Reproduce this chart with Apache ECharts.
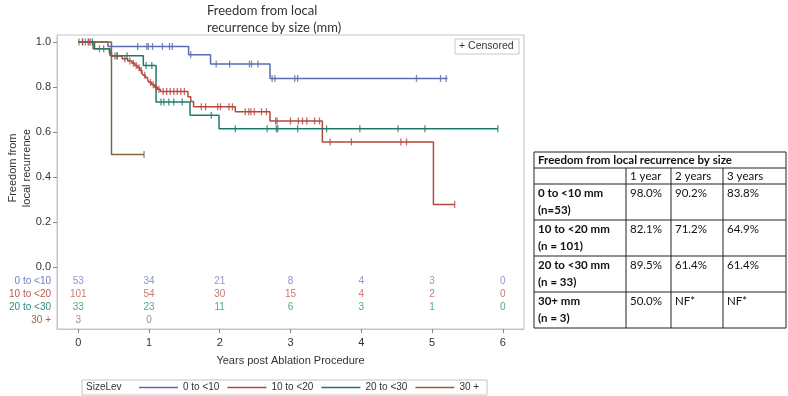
<!DOCTYPE html>
<html><head><meta charset="utf-8">
<script src="https://cdn.jsdelivr.net/npm/echarts@6/dist/echarts.min.js"></script>
<style>html,body{margin:0;padding:0;background:#fff}#c{width:788px;height:396px}</style>
</head><body><div id="c"></div>
<script>
// ---------------- data ----------------
const groups = ['0 to <10', '10 to <20', '20 to <30', '30 +'];
// Kaplan-Meier step points [years, freedom from recurrence]
const km0 = [[0,1],[0.42,0.98],[1.56,0.943],[1.87,0.902],[2.71,0.838],[5.22,0.838]];
const km1 = [[0,1],[0.21,0.970],[0.44,0.950],[0.47,0.938],[0.62,0.926],[0.70,0.915],[0.76,0.905],[0.80,0.895],
  [0.84,0.885],[0.87,0.874],[0.90,0.863],[0.92,0.852],[0.95,0.842],[0.98,0.831],[1.00,0.821],[1.04,0.810],
  [1.08,0.799],[1.12,0.790],[1.16,0.780],[1.55,0.757],[1.59,0.735],[1.63,0.712],[2.22,0.690],[2.71,0.649],
  [3.45,0.556],[5.02,0.278],[5.32,0.278]];
const km2 = [[0,1],[0.23,0.970],[0.45,0.939],[0.92,0.895],[1.10,0.733],[1.58,0.674],[1.99,0.614],[5.93,0.614]];
const km3 = [[0,1],[0.47,0.5],[0.93,0.5]];
// censoring times (years)
const cens0 = [0.06,0.15,0.84,0.97,0.99,1.05,1.19,1.29,1.33,1.59,1.95,2.14,2.42,2.45,2.54,2.74,2.78,3.06,3.10,4.78,5.12,5.20];
const cens1 = [0.06,0.10,0.14,0.17,0.30,0.36,0.52,0.55,0.66,0.73,0.78,0.82,0.86,0.89,0.94,1.02,1.06,1.10,1.14,
  1.20,1.25,1.30,1.35,1.40,1.45,1.50,1.74,1.80,1.97,2.01,2.13,2.18,2.36,2.41,2.44,2.49,2.59,2.66,
  2.79,2.81,3.00,3.11,3.17,3.23,3.34,3.41,3.56,3.86,4.56,4.64,5.32];
const cens2 = [0.20,0.55,0.69,0.96,1.04,1.17,1.21,1.28,1.35,1.47,1.88,2.22,2.67,2.80,2.82,3.10,3.51,3.98,4.52,4.90,5.93];
const cens3 = [0.01,0.93];
// numbers at risk
const riskTimes = [0,1,2,3,4,5,6];
const risk0 = [53,34,21,8,4,3,0];
const risk1 = [101,54,30,15,4,2,0];
const risk2 = [33,23,11,6,3,1,0];
const risk3 = [3,0];
// axes
const xTicks = [0,1,2,3,4,5,6];
const yTicks = [0,0.2,0.4,0.6,0.8,1.0];
// table
const tableTitle = 'Freedom from local recurrence by size';
const tableCols = ['1 year','2 years','3 years'];
const tableRowLabels = [['0 to <10 mm','(n=53)'],['10 to <20 mm','(n = 101)'],['20 to <30 mm','(n = 33)'],['30+ mm','(n = 3)']];
const table1y = ['98.0%','82.1%','89.5%','50.0%'];
const table2y = ['90.2%','71.2%','61.4%','NF*'];
const table3y = ['83.8%','64.9%','61.4%','NF*'];

// ---------------- layout / style ----------------
const FONT = '"Liberation Sans", Arial, sans-serif';
const TFONT = 'Lato, "Liberation Sans", sans-serif';
const colors = ['#5b6bb0','#b5473f','#1f7a6c','#86663f'];
const riskColors = ['#6f7ec0','#c0574f','#2f8a7c','#8e6f4c'];
const rowY = [-0.062,-0.12,-0.178,-0.236];
const yMin = -0.2756, yMax = 1.0311;

const kms = [km0,km1,km2,km3];
const cens = [cens0,cens1,cens2,cens3];
const risks = [risk0,risk1,risk2,risk3];

function survAt(km,t){ let s = km[0][1]; for (const p of km){ if (p[0] <= t + 1e-9) s = p[1]; else break; } return s; }

const series = [];
kms.forEach((km,i)=>{
  series.push({name:groups[i], type:'line', step:'end', data:km, symbol:'none', z:2+i,
    lineStyle:{color:colors[i], width:1.5}, itemStyle:{color:colors[i]}, animation:false});
});
cens.forEach((c,i)=>{
  series.push({name:'cens'+i, type:'scatter', data:c.map(t=>[t, survAt(kms[i],t)]), symbol:'rect',
    symbolSize:[1.3,7], itemStyle:{color:colors[i]}, z:10, silent:true, animation:false});
});
risks.forEach((r,i)=>{
  series.push({name:'risk'+i, type:'scatter', data:r.map((n,j)=>[riskTimes[j], rowY[i], n]), symbolSize:0,
    itemStyle:{color:'rgba(0,0,0,0)'}, silent:true, animation:false, z:12,
    label:{show:true, position:'inside', formatter:p=>String(p.value[2]), color:riskColors[i], fontSize:10, fontFamily:FONT}});
});

const rich = {};
riskColors.forEach((c,i)=>{ rich['r'+i] = {color:c, fontSize:10, fontFamily:FONT}; });

// table graphic
const tX = [534,626,671,723,786];
const tY = [152,168,184,220,256,292,328];
const tEls = [];
tEls.push({type:'rect', shape:{x:tX[0], y:tY[0], width:tX[4]-tX[0], height:tY[6]-tY[0]}, style:{fill:'#fff', stroke:'#222', lineWidth:1}});
for (let r=1;r<tY.length-1;r++) tEls.push({type:'line', shape:{x1:tX[0],y1:tY[r],x2:tX[4],y2:tY[r]}, style:{stroke:'#222',lineWidth:1}});
for (let c=1;c<tX.length-1;c++) tEls.push({type:'line', shape:{x1:tX[c],y1:tY[1],x2:tX[c],y2:tY[6]}, style:{stroke:'#222',lineWidth:1}});
function tText(x,y,s,bold){ return {type:'text', x:x, y:y, style:{text:s, fill:'#111', font:(bold?'bold ':'')+'11.5px '+TFONT, textVerticalAlign:'middle'}}; }
tEls.push(tText(tX[0]+4, (tY[0]+tY[1])/2, tableTitle, true));
tableCols.forEach((s,j)=>tEls.push(tText(tX[j+1]+4, (tY[1]+tY[2])/2, s, false)));
tableRowLabels.forEach((lab,i)=>{
  const top = tY[i+2];
  tEls.push(tText(tX[0]+4, top+9, lab[0], true));
  tEls.push(tText(tX[0]+4, top+26, lab[1], true));
  tEls.push(tText(tX[1]+4, top+9, table1y[i], false));
  tEls.push(tText(tX[2]+4, top+9, table2y[i], false));
  tEls.push(tText(tX[3]+4, top+9, table3y[i], false));
});

const option = {
  backgroundColor:'#fff',
  animation:false,
  grid:{left:57, right:264, top:35, bottom:67, show:true, borderColor:'#c4c4c4', borderWidth:1},
  xAxis:{type:'value', min:-0.3, max:6.3, splitLine:{show:false},
    axisLine:{show:true, onZero:false, lineStyle:{color:'#c4c4c4'}},
    axisTick:{show:true, customValues:xTicks, length:4, lineStyle:{color:'#888'}},
    axisLabel:{customValues:xTicks, fontSize:11, color:'#333', fontFamily:FONT, margin:8},
    name:'Years post Ablation Procedure', nameLocation:'middle', nameGap:26,
    nameTextStyle:{fontSize:11, color:'#333', fontFamily:FONT}},
  yAxis:{type:'value', min:yMin, max:yMax, splitLine:{show:false},
    axisLine:{show:true, onZero:false, lineStyle:{color:'#c4c4c4'}},
    axisTick:{show:true, customValues:yTicks, length:4, lineStyle:{color:'#888'}},
    axisLabel:{customValues:yTicks.concat(rowY), fontSize:11, color:'#333', fontFamily:FONT, margin:6, rich:rich,
      formatter:(v)=>{ for (let i=0;i<rowY.length;i++){ if (Math.abs(v-rowY[i])<1e-6) return '{r'+i+'|'+groups[i]+'}'; } return Number(v).toFixed(1); }}},
  legend:{data:groups, left:139, top:382, itemWidth:39, itemHeight:1.5, itemGap:8, icon:'rect', selectedMode:false,
    textStyle:{fontSize:10, color:'#333', fontFamily:FONT, lineHeight:11}, padding:0},
  graphic:[
    {type:'text', left:207, top:2, style:{text:'Freedom from local\nrecurrence by size (mm)', fill:'#333', font:'13px '+TFONT, lineHeight:17}},
    {type:'text', x:20, y:168, rotation:Math.PI/2, style:{text:'Freedom from\nlocal recurrence', fill:'#333', font:'11px '+FONT, textAlign:'center', textVerticalAlign:'middle', lineHeight:14}},
    {type:'rect', shape:{x:455, y:39, width:64, height:15}, style:{fill:'#fff', stroke:'#c8c8c8', lineWidth:1}, z:50},
    {type:'text', x:459, y:46.5, style:{text:'+ Censored', fill:'#333', font:'10.5px '+FONT, textVerticalAlign:'middle'}, z:51},
    {type:'rect', shape:{x:82, y:380, width:405, height:15}, style:{fill:'none', stroke:'#c4c4c4', lineWidth:1}},
    {type:'text', x:86, y:387.5, style:{text:'SizeLev', fill:'#333', font:'10px '+FONT, textVerticalAlign:'middle'}},
    {type:'group', children:tEls}
  ],
  series:series
};
const chart = echarts.init(document.getElementById('c'));
chart.setOption(option);
</script>
</body></html>
